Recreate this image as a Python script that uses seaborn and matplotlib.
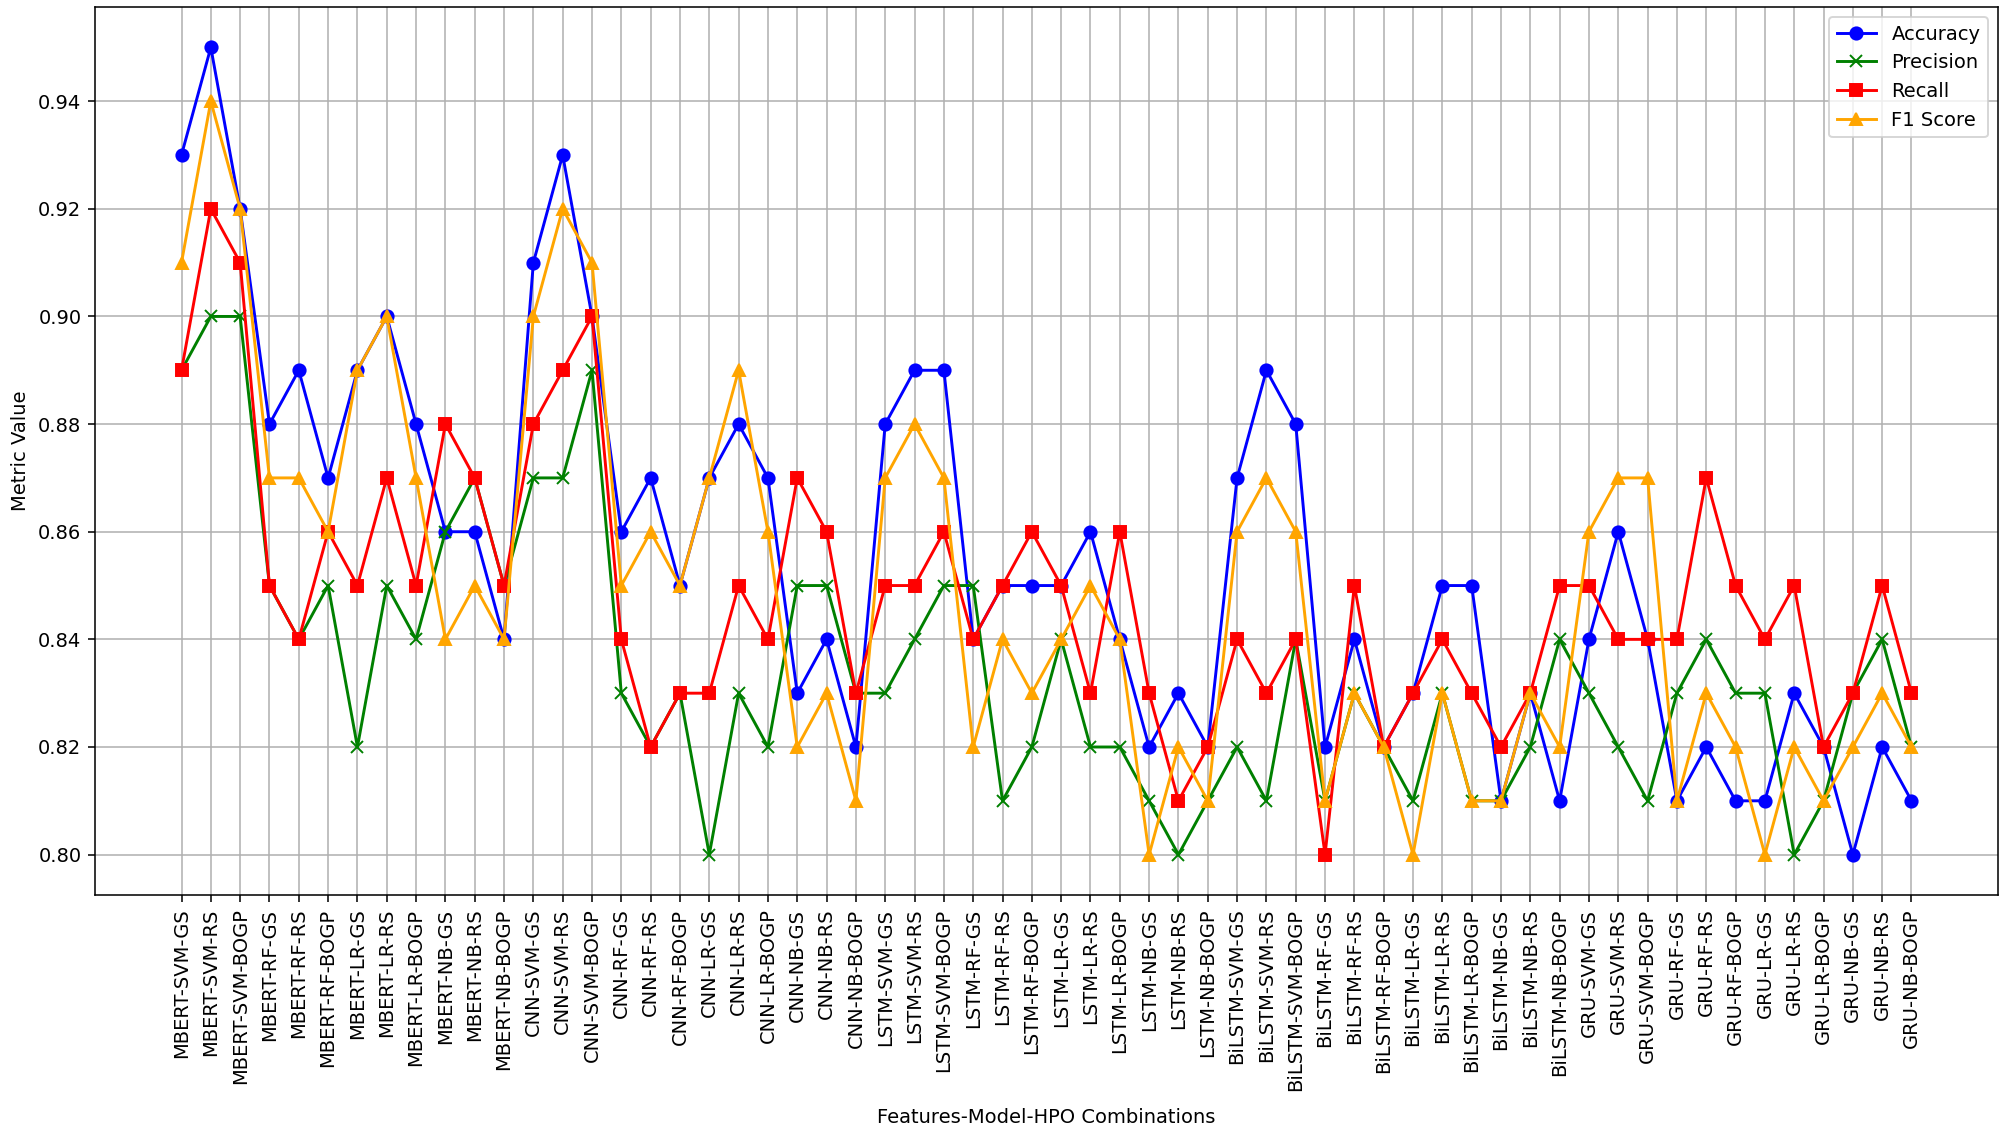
import matplotlib
matplotlib.use("Agg")
import matplotlib.pyplot as plt
import seaborn as sns
import pandas as pd

categories = [
    "MBERT-SVM-GS", "MBERT-SVM-RS", "MBERT-SVM-BOGP",
    "MBERT-RF-GS", "MBERT-RF-RS", "MBERT-RF-BOGP",
    "MBERT-LR-GS", "MBERT-LR-RS", "MBERT-LR-BOGP",
    "MBERT-NB-GS", "MBERT-NB-RS", "MBERT-NB-BOGP",
    "CNN-SVM-GS", "CNN-SVM-RS", "CNN-SVM-BOGP",
    "CNN-RF-GS", "CNN-RF-RS", "CNN-RF-BOGP",
    "CNN-LR-GS", "CNN-LR-RS", "CNN-LR-BOGP",
    "CNN-NB-GS", "CNN-NB-RS", "CNN-NB-BOGP",
    "LSTM-SVM-GS", "LSTM-SVM-RS", "LSTM-SVM-BOGP",
    "LSTM-RF-GS", "LSTM-RF-RS", "LSTM-RF-BOGP",
    "LSTM-LR-GS", "LSTM-LR-RS", "LSTM-LR-BOGP",
    "LSTM-NB-GS", "LSTM-NB-RS", "LSTM-NB-BOGP",
    "BiLSTM-SVM-GS", "BiLSTM-SVM-RS", "BiLSTM-SVM-BOGP",
    "BiLSTM-RF-GS", "BiLSTM-RF-RS", "BiLSTM-RF-BOGP",
    "BiLSTM-LR-GS", "BiLSTM-LR-RS", "BiLSTM-LR-BOGP",
    "BiLSTM-NB-GS", "BiLSTM-NB-RS", "BiLSTM-NB-BOGP",
    "GRU-SVM-GS", "GRU-SVM-RS", "GRU-SVM-BOGP",
    "GRU-RF-GS", "GRU-RF-RS", "GRU-RF-BOGP",
    "GRU-LR-GS", "GRU-LR-RS", "GRU-LR-BOGP",
    "GRU-NB-GS", "GRU-NB-RS", "GRU-NB-BOGP",
]

accuracy = [0.93, 0.95, 0.92, 0.88, 0.89, 0.87, 0.89, 0.90, 0.88, 0.86, 0.86, 0.84,
            0.91, 0.93, 0.90, 0.86, 0.87, 0.85, 0.87, 0.88, 0.87, 0.83, 0.84, 0.82,
            0.88, 0.89, 0.89, 0.84, 0.85, 0.85, 0.85, 0.86, 0.84, 0.82, 0.83, 0.82,
            0.87, 0.89, 0.88, 0.82, 0.84, 0.82, 0.83, 0.85, 0.85, 0.81, 0.83, 0.81,
            0.84, 0.86, 0.84, 0.81, 0.82, 0.81, 0.81, 0.83, 0.82, 0.80, 0.82, 0.81]

precision = [0.89, 0.90, 0.90, 0.85, 0.84, 0.85, 0.82, 0.85, 0.84, 0.86, 0.87, 0.85,
             0.87, 0.87, 0.89, 0.83, 0.82, 0.83, 0.80, 0.83, 0.82, 0.85, 0.85, 0.83,
             0.83, 0.84, 0.85, 0.85, 0.81, 0.82, 0.84, 0.82, 0.82, 0.81, 0.80, 0.81,
             0.82, 0.81, 0.84, 0.81, 0.83, 0.82, 0.81, 0.83, 0.81, 0.81, 0.82, 0.84,
             0.83, 0.82, 0.81, 0.83, 0.84, 0.83, 0.83, 0.80, 0.81, 0.83, 0.84, 0.82]

recall = [0.89, 0.92, 0.91, 0.85, 0.84, 0.86, 0.85, 0.87, 0.85, 0.88, 0.87, 0.85,
          0.88, 0.89, 0.90, 0.84, 0.82, 0.83, 0.83, 0.85, 0.84, 0.87, 0.86, 0.83,
          0.85, 0.85, 0.86, 0.84, 0.85, 0.86, 0.85, 0.83, 0.86, 0.83, 0.81, 0.82,
          0.84, 0.83, 0.84, 0.80, 0.85, 0.82, 0.83, 0.84, 0.83, 0.82, 0.83, 0.85,
          0.85, 0.84, 0.84, 0.84, 0.87, 0.85, 0.84, 0.85, 0.82, 0.83, 0.85, 0.83]

f1_score = [0.91, 0.94, 0.92, 0.87, 0.87, 0.86, 0.89, 0.90, 0.87, 0.84, 0.85, 0.84,
            0.90, 0.92, 0.91, 0.85, 0.86, 0.85, 0.87, 0.89, 0.86, 0.82, 0.83, 0.81,
            0.87, 0.88, 0.87, 0.82, 0.84, 0.83, 0.84, 0.85, 0.84, 0.80, 0.82, 0.81,
            0.86, 0.87, 0.86, 0.81, 0.83, 0.82, 0.80, 0.83, 0.81, 0.81, 0.83, 0.82,
            0.86, 0.87, 0.87, 0.81, 0.83, 0.82, 0.80, 0.82, 0.81, 0.82, 0.83, 0.82]

metric_names = ["Accuracy", "Precision", "Recall", "F1 Score"]
metric_values = [accuracy, precision, recall, f1_score]
metric_colors = ["blue", "green", "red", "orange"]
metric_markers = ["o", "x", "s", "^"]

DPI = 140
fig = plt.figure(figsize=(2006 / DPI, 1130 / DPI), dpi=DPI)
ax = fig.add_axes([95 / 2006, 1 - 895 / 1130, (1998 - 95) / 2006, (895 - 7) / 1130])

positions = list(range(len(categories)))
for name, vals, col, mk in zip(metric_names, metric_values, metric_colors, metric_markers):
    df = pd.DataFrame({"pos": positions, "value": vals})
    sns.lineplot(data=df, x="pos", y="value", ax=ax, color=col, marker=mk,
                 markersize=6.3, markeredgecolor=col, markeredgewidth=1.0,
                 linewidth=1.5, label=name, sort=False, estimator=None,
                 errorbar=None)

ax.set_xticks(positions)
ax.set_xticklabels(categories, rotation=90)
ax.margins(x=0.05, y=0.05)
ax.set_xlabel("Features-Model-HPO Combinations", labelpad=9)
ax.set_ylabel("Metric Value")
ax.grid(True)
ax.legend(loc="upper right")

fig.savefig("out.png", dpi=DPI)
